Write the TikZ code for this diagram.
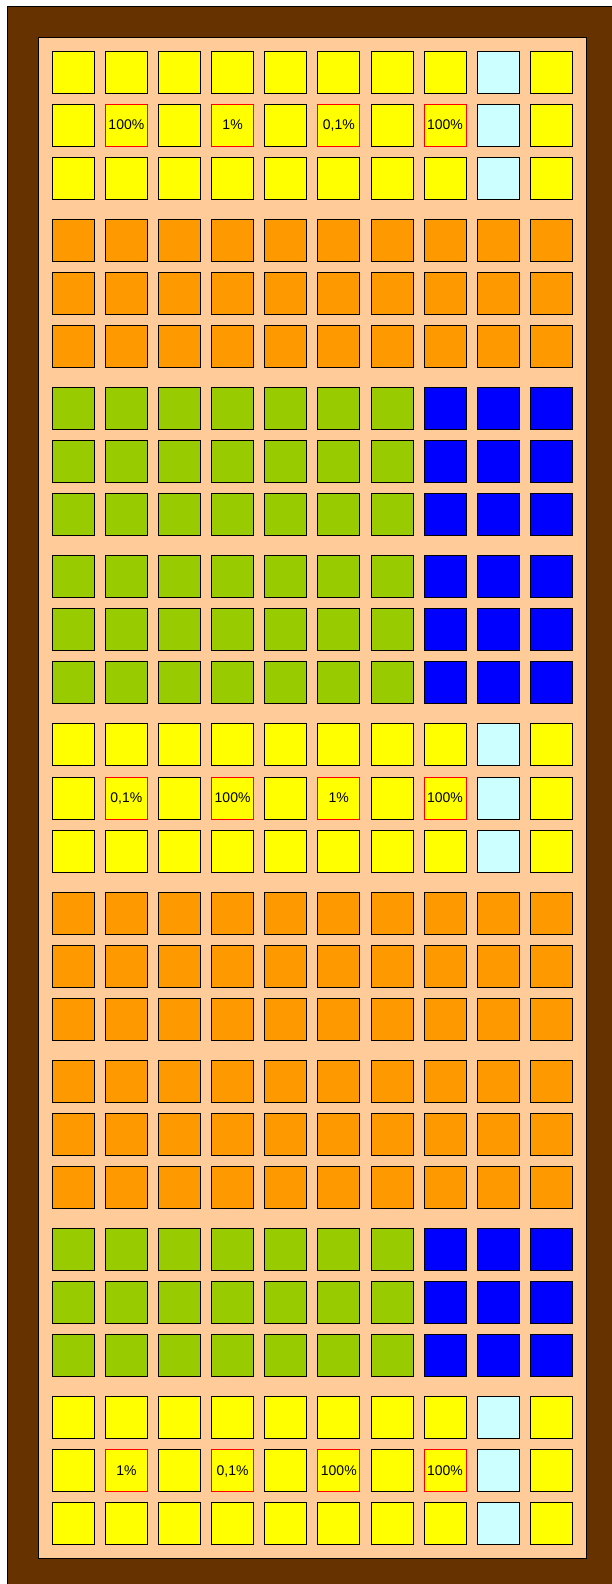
\documentclass[tikz,border=0pt]{standalone}
\usepackage{fontspec}
\setmainfont{Liberation Sans}
\definecolor{frame}{HTML}{663300}
\definecolor{tray}{HTML}{FFCC99}
\definecolor{yel}{HTML}{FFFF00}
\definecolor{ora}{HTML}{FF9900}
\definecolor{grn}{HTML}{99CC00}
\definecolor{blu}{HTML}{0000FF}
\definecolor{ice}{HTML}{CCFFFF}
\begin{document}
\begin{tikzpicture}[x=1pt, y=-1pt,
  cell/.style={draw=black, line width=0.8pt, minimum size=42pt, inner sep=0pt,
    text depth=0pt, font=\fontsize{14}{16}\selectfont},
  pct/.style={cell, draw=red, fill=yel}]
  \useasboundingbox (0,0) rectangle (612,1584);
  \clip (0,0) rectangle (612,1584);
  % frame and tray
  \filldraw[fill=frame, draw=black, line width=1pt] (7,7) rectangle (640,1610);
  \filldraw[fill=tray, draw=black, line width=1pt] (38.7,37.7) rectangle (586,1558);

  % yellow groups
  \foreach \g in {0,4,8} {
    \foreach \r in {0,2}
      \foreach \c/\col in {0/yel,1/yel,2/yel,3/yel,4/yel,5/yel,6/yel,7/yel,8/ice,9/yel}
        \node[cell, fill=\col] (y\g-\r-\c) at (\c*53.1+73.3, \g*168.2+\r*53.1+72) {};
    \foreach \c/\col in {0/yel,2/yel,4/yel,6/yel,8/ice,9/yel}
      \node[cell, fill=\col] (y\g-1-\c) at (\c*53.1+73.3, \g*168.2+53.1+72) {};
  }
  % percentages
  \foreach \g/\c/\txt in {0/1/100\%, 0/3/1\%, 0/5/{0,1\%}, 0/7/100\%,
                          4/1/{0,1\%}, 4/3/100\%, 4/5/1\%, 4/7/100\%,
                          8/1/1\%, 8/3/{0,1\%}, 8/5/100\%, 8/7/100\%}
    \node[pct] (p\g-\c) at (\c*53.1+73.3, \g*168.2+53.1+72) {\txt};

  % orange groups
  \foreach \g in {1,5,6}
    \foreach \r in {0,1,2}
      \foreach \c in {0,...,9}
        \node[cell, fill=ora] (o\g-\r-\c) at (\c*53.1+73.3, \g*168.2+\r*53.1+72) {};

  % green / blue groups
  \foreach \g in {2,3,7}
    \foreach \r in {0,1,2}
      \foreach \c/\col in {0/grn,1/grn,2/grn,3/grn,4/grn,5/grn,6/grn,7/blu,8/blu,9/blu}
        \node[cell, fill=\col] (g\g-\r-\c) at (\c*53.1+73.3, \g*168.2+\r*53.1+72) {};
\end{tikzpicture}
\end{document}
